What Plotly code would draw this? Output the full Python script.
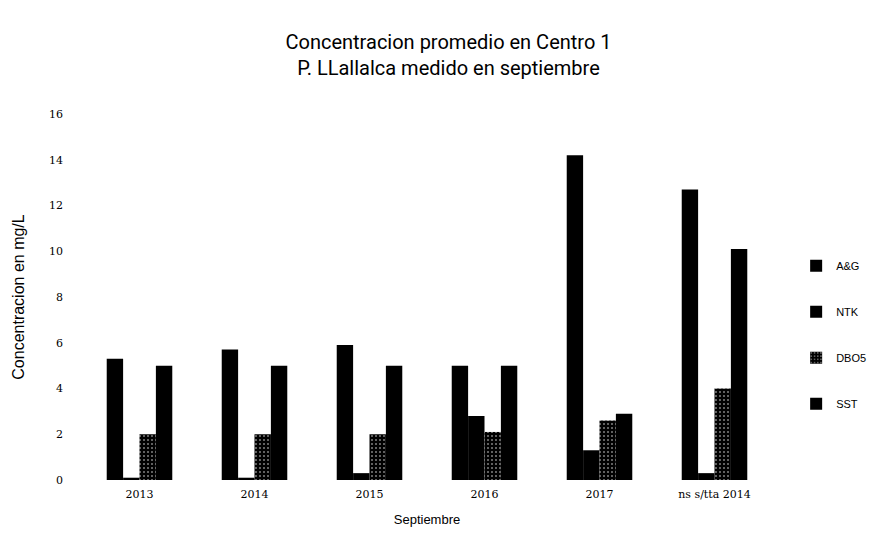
import plotly.graph_objects as go

categories = ["2013", "2014", "2015", "2016", "2017", "ns s/tta 2014"]
ag = [5.3, 5.7, 5.9, 5.0, 14.2, 12.7]
ntk = [0.1, 0.1, 0.3, 2.8, 1.3, 0.3]
dbo5 = [2.0, 2.0, 2.0, 2.1, 2.6, 4.0]
sst = [5.0, 5.0, 5.0, 5.0, 2.9, 10.1]
series_names = ["A&G", "NTK", "DBO5", "SST"]
y_ticks = [0, 2, 4, 6, 8, 10, 12, 14, 16]

fig = go.Figure()
for i, (name, vals) in enumerate(zip(series_names, [ag, ntk, dbo5, sst])):
    marker = dict(color="#000000", line=dict(width=0))
    if name == "DBO5":
        marker = dict(color="#111111", line=dict(width=0),
                      pattern=dict(shape=".", fgcolor="#ffffff", bgcolor="#000000",
                                   size=4, solidity=0.2))
    fig.add_trace(go.Bar(x=categories, y=vals, name=name, marker=marker,
                         legendgroup=name))

fig.update_layout(
    width=881, height=551,
    paper_bgcolor="white", plot_bgcolor="white",
    barmode="group", bargap=0.43, bargroupgap=0,
    margin=dict(l=74, r=117, t=106, b=79),
    font=dict(family="Liberation Sans", color="#000000"),
    title=dict(text="Concentracion promedio en Centro 1<br>P. LLallalca medido en septiembre",
               x=0.5, xanchor="center", y=0.925, yanchor="top",
               font=dict(size=20, family="Roboto", color="#000000")),
    xaxis=dict(title=dict(text="Septiembre", font=dict(size=13), standoff=14),
               showgrid=False, showline=False, ticks="", automargin=False,
               ticklabelstandoff=6,
               tickfont=dict(size=11, family="DejaVu Serif")),
    yaxis=dict(title=dict(text="Concentracion en mg/L", font=dict(size=16), standoff=20),
               range=[0, 16], tickvals=y_ticks, showgrid=False, showline=False,
               zeroline=False, ticks="", automargin=False, ticklabelstandoff=18,
               tickfont=dict(size=11, family="DejaVu Serif")),
    legend=dict(x=1.035, y=0.625, xanchor="left", yanchor="top",
                font=dict(size=11), tracegroupgap=27, traceorder="grouped",
                itemwidth=30),
)

fig.write_html("out.html")
